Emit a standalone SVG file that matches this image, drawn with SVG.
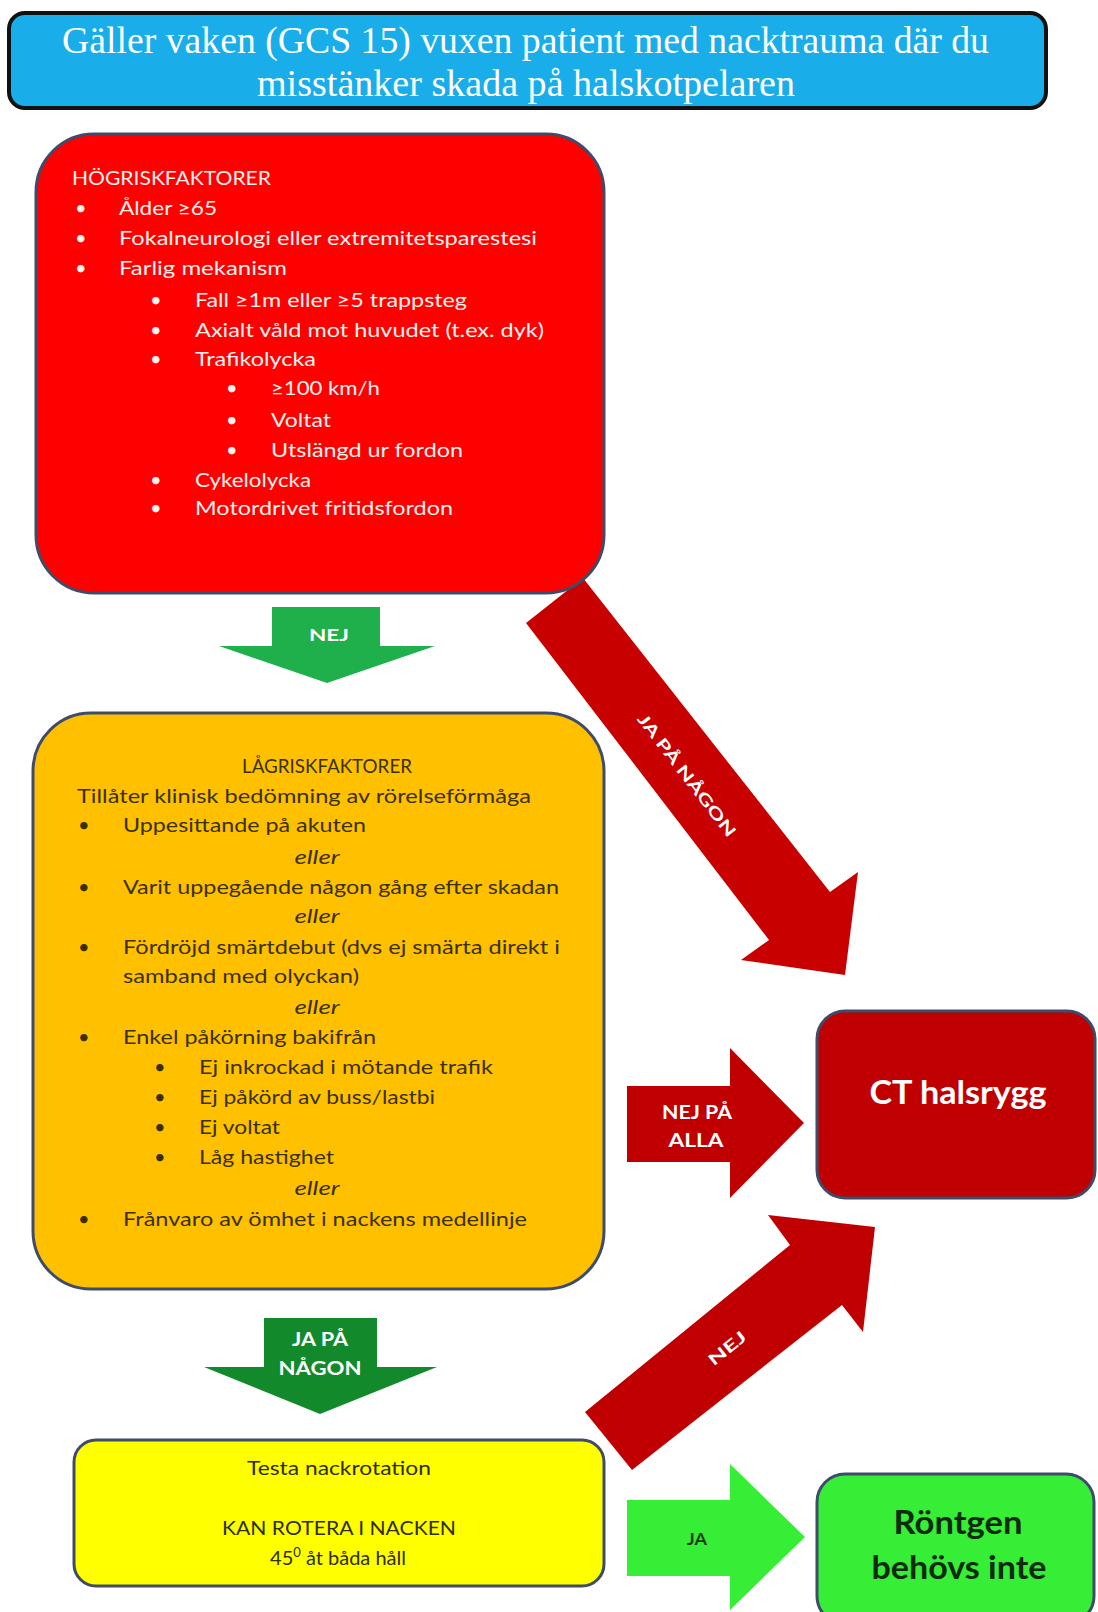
<svg xmlns="http://www.w3.org/2000/svg" width="1098" height="1612" viewBox="0 0 1098 1612">
  <style>
    .box { stroke: #3e4c6a; stroke-width: 3; }
    .t { font-family: Lato, "Open Sans", "Liberation Sans", sans-serif; font-size: 20px; }
    .w { fill: #fff2ee; }
    .d { fill: #3b3000; }
    .y { fill: #2e2e08; }
    .lbl { font-family: Lato, "Liberation Sans", sans-serif; font-weight: bold; fill: #ffffff; }
    .it { font-style: italic; }
    .ttl { font-family: "Liberation Serif", "Times New Roman", serif; font-size: 37px; fill: #ffffff; }
  </style>

  <rect width="1098" height="1612" fill="#ffffff"/>

  <g id="connectors">
    <g id="arrow-ja-pa-nagon-1">
      <polygon points="526,623 583,578 830,892 858,872 845,975 741,960 769,940" fill="#c80000"/>
      <text class="lbl" font-size="16" text-anchor="middle" transform="translate(687,775) rotate(52.5)" y="6" textLength="150" lengthAdjust="spacingAndGlyphs">JA PÅ NÅGON</text>
    </g>
    <g id="arrow-nej-1">
      <polygon points="272,607 380,607 380,646 435,646 327,683 219,646 272,646" fill="#1fb04c"/>
      <text class="lbl" font-size="17" x="329" y="641" text-anchor="middle" textLength="40" lengthAdjust="spacingAndGlyphs">NEJ</text>
    </g>
    <g id="arrow-nej-pa-alla">
      <polygon points="627,1086 730,1086 730,1048 804,1123 730,1198 730,1162 627,1162" fill="#c00000"/>
      <text class="lbl" font-size="18" x="697" y="1119" text-anchor="middle" textLength="70" lengthAdjust="spacingAndGlyphs">NEJ PÅ</text>
      <text class="lbl" font-size="18" x="696" y="1147" text-anchor="middle" textLength="55" lengthAdjust="spacingAndGlyphs">ALLA</text>
    </g>
    <g id="arrow-ja-pa-nagon-2">
      <polygon points="264,1318 377,1318 377,1367 437,1367 320,1414 204,1367 264,1367" fill="#128a2c"/>
      <text class="lbl" font-size="18" x="320" y="1346" text-anchor="middle" textLength="56" lengthAdjust="spacingAndGlyphs">JA PÅ</text>
      <text class="lbl" font-size="18" x="320" y="1375" text-anchor="middle" textLength="83" lengthAdjust="spacingAndGlyphs">NÅGON</text>
    </g>
    <g id="arrow-nej-2">
      <polygon points="632,1470 585,1412 790,1245 768,1215 875,1227 863,1332 842,1305" fill="#c00000"/>
      <text class="lbl" font-size="16" text-anchor="middle" transform="translate(727,1348) rotate(-39)" y="6" textLength="44" lengthAdjust="spacingAndGlyphs">NEJ</text>
    </g>
    <g id="arrow-ja">
      <polygon points="627,1500 730,1500 730,1464 805,1537 730,1610 730,1576 627,1576" fill="#35ee35"/>
      <text class="lbl" font-size="17" x="697" y="1545" text-anchor="middle" style="fill:#1d3a1d" textLength="20" lengthAdjust="spacingAndGlyphs">JA</text>
    </g>
  </g>

  <g id="title">
    <rect x="9" y="13" width="1037" height="95" rx="16" fill="#19aee9" stroke="#111111" stroke-width="4"/>
    <text class="ttl" x="62" y="53" textLength="927" lengthAdjust="spacingAndGlyphs">Gäller vaken (GCS 15) vuxen patient med nacktrauma där du</text>
    <text class="ttl" x="257" y="96" textLength="538" lengthAdjust="spacingAndGlyphs">misstänker skada på halskotpelaren</text>
  </g>

  <g id="hogrisk">
    <rect class="box" x="36" y="134" width="568" height="459" rx="58" fill="#ff0000"/>
    <g class="t w">
      <text x="72" y="185" textLength="199" lengthAdjust="spacingAndGlyphs">HÖGRISKFAKTORER</text>
      <text x="75" y="215">•</text><text x="119" y="215" textLength="98" lengthAdjust="spacingAndGlyphs">Ålder ≥65</text>
      <text x="75" y="245">•</text><text x="119" y="245" textLength="418" lengthAdjust="spacingAndGlyphs">Fokalneurologi eller extremitetsparestesi</text>
      <text x="75" y="275">•</text><text x="119" y="275" textLength="168" lengthAdjust="spacingAndGlyphs">Farlig mekanism</text>
      <text x="150" y="307">•</text><text x="195" y="307" textLength="272" lengthAdjust="spacingAndGlyphs">Fall ≥1m eller ≥5 trappsteg</text>
      <text x="150" y="337">•</text><text x="195" y="337" textLength="349" lengthAdjust="spacingAndGlyphs">Axialt våld mot huvudet (t.ex. dyk)</text>
      <text x="150" y="366">•</text><text x="195" y="366" textLength="121" lengthAdjust="spacingAndGlyphs">Trafikolycka</text>
      <text x="226" y="395">•</text><text x="271" y="395" textLength="109" lengthAdjust="spacingAndGlyphs">≥100 km/h</text>
      <text x="226" y="427">•</text><text x="271" y="427" textLength="60" lengthAdjust="spacingAndGlyphs">Voltat</text>
      <text x="226" y="457">•</text><text x="271" y="457" textLength="192" lengthAdjust="spacingAndGlyphs">Utslängd ur fordon</text>
      <text x="150" y="487">•</text><text x="195" y="487" textLength="116" lengthAdjust="spacingAndGlyphs">Cykelolycka</text>
      <text x="150" y="515">•</text><text x="195" y="515" textLength="258" lengthAdjust="spacingAndGlyphs">Motordrivet fritidsfordon</text>
    </g>
  </g>

  <g id="lagrisk">
    <rect class="box" x="33" y="713" width="571" height="576" rx="58" fill="#ffc000"/>
    <g class="t d">
      <text x="242" y="773" textLength="170" lengthAdjust="spacingAndGlyphs">LÅGRISKFAKTORER</text>
      <text x="77" y="803" textLength="454" lengthAdjust="spacingAndGlyphs">Tillåter klinisk bedömning av rörelseförmåga</text>
      <text x="78" y="832">•</text><text x="123" y="832" textLength="243" lengthAdjust="spacingAndGlyphs">Uppesittande på akuten</text>
      <text class="it" x="317" y="864" text-anchor="middle" textLength="45" lengthAdjust="spacingAndGlyphs">eller</text>
      <text x="78" y="894">•</text><text x="123" y="894" textLength="436" lengthAdjust="spacingAndGlyphs">Varit uppegående någon gång efter skadan</text>
      <text class="it" x="317" y="923" text-anchor="middle" textLength="45" lengthAdjust="spacingAndGlyphs">eller</text>
      <text x="78" y="954">•</text><text x="123" y="954" textLength="437" lengthAdjust="spacingAndGlyphs">Fördröjd smärtdebut (dvs ej smärta direkt i</text>
      <text x="123" y="983" textLength="236" lengthAdjust="spacingAndGlyphs">samband med olyckan)</text>
      <text class="it" x="317" y="1014" text-anchor="middle" textLength="45" lengthAdjust="spacingAndGlyphs">eller</text>
      <text x="78" y="1044">•</text><text x="123" y="1044" textLength="253" lengthAdjust="spacingAndGlyphs">Enkel påkörning bakifrån</text>
      <text x="154" y="1074">•</text><text x="199" y="1074" textLength="294" lengthAdjust="spacingAndGlyphs">Ej inkrockad i mötande trafik</text>
      <text x="154" y="1104">•</text><text x="199" y="1104" textLength="236" lengthAdjust="spacingAndGlyphs">Ej påkörd av buss/lastbi</text>
      <text x="154" y="1134">•</text><text x="199" y="1134" textLength="81" lengthAdjust="spacingAndGlyphs">Ej voltat</text>
      <text x="154" y="1164">•</text><text x="199" y="1164" textLength="135" lengthAdjust="spacingAndGlyphs">Låg hastighet</text>
      <text class="it" x="317" y="1195" text-anchor="middle" textLength="45" lengthAdjust="spacingAndGlyphs">eller</text>
      <text x="78" y="1226">•</text><text x="123" y="1226" textLength="404" lengthAdjust="spacingAndGlyphs">Frånvaro av ömhet i nackens medellinje</text>
    </g>
  </g>

  <g id="ct-halsrygg">
    <rect class="box" x="817" y="1011" width="278" height="187" rx="28" fill="#c00000"/>
    <text class="lbl" font-size="33" x="958" y="1104" text-anchor="middle" textLength="177" lengthAdjust="spacingAndGlyphs">CT halsrygg</text>
  </g>

  <g id="testa-nackrotation">
    <rect class="box" x="74" y="1440" width="530" height="146" rx="22" fill="#ffff00"/>
    <g class="t y" text-anchor="middle">
      <text x="339" y="1475" textLength="184" lengthAdjust="spacingAndGlyphs">Testa nackrotation</text>
      <text x="339" y="1535" textLength="234" lengthAdjust="spacingAndGlyphs">KAN ROTERA I NACKEN</text>
      <text x="338" y="1565">45<tspan font-size="13" dy="-8">0</tspan><tspan dy="8"> åt båda håll</tspan></text>
    </g>
  </g>

  <g id="rontgen-behovs-inte">
    <rect class="box" x="817" y="1474" width="277" height="150" rx="28" fill="#35ee35"/>
    <text class="lbl" font-size="32" x="958" y="1534" text-anchor="middle" style="fill:#102a10" textLength="129" lengthAdjust="spacingAndGlyphs">Röntgen</text>
    <text class="lbl" font-size="32" x="959" y="1579" text-anchor="middle" style="fill:#102a10" textLength="175" lengthAdjust="spacingAndGlyphs">behövs inte</text>
  </g>
</svg>
